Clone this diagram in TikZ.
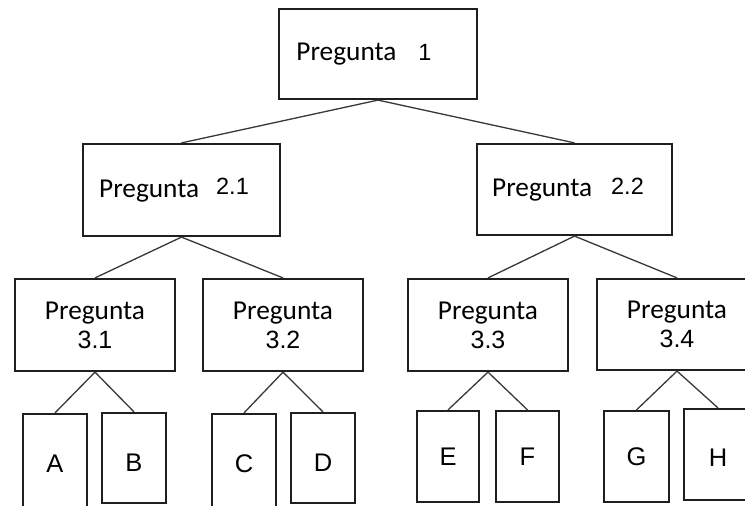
\documentclass[tikz,border=0pt]{standalone}
\usepackage{fontspec}
\setmainfont{Liberation Sans}
\newfontfamily\carlfont{Carlito}
\newfontfamily\arialfont{Liberation Sans}
\newcommand{\qword}{{\carlfont\fontsize{27.3}{29}\selectfont Pregunta}}
\newcommand{\qnum}[1]{{\arialfont\fontsize{23.5}{29}\selectfont #1}}
\newcommand{\qnumb}[1]{{\arialfont\fontsize{25}{29}\selectfont #1}}
\begin{document}
\begin{tikzpicture}[x=1pt,y=-1pt,
  box/.style={draw=black!88, line width=2.2pt, rectangle, inner sep=0pt, fill=white},
  qbox/.style={box, font=\fontsize{27.3}{29}\selectfont, align=center},
  leaf/.style={box, font=\arialfont\fontsize{25.5}{29}\selectfont, text height=18pt, text depth=0pt},
  link/.style={draw=black!78, line width=1.3pt}]
\useasboundingbox (0,0) rectangle (745,506);
\fill[white] (0,0) rectangle (745,506);
\begin{scope}
\clip (0,0) rectangle (745,506);
% level 1
\node[box, minimum width=198pt, minimum height=90pt] (q1) at (378,54)
  {\qword\hspace{22pt}\qnum{1}\hspace*{28pt}};
% level 2
\node[box, minimum width=197pt, minimum height=92pt] (q21) at (181.5,190)
  {\qword\hspace{17pt}\raisebox{2.5pt}{\qnum{2.1}}\hspace*{15pt}};
\node[box, minimum width=195pt, minimum height=91pt] (q22) at (574.5,189.5)
  {\qword\hspace{19pt}\raisebox{2.5pt}{\qnum{2.2}}\hspace*{13pt}};
% level 3
\node[qbox, minimum width=160pt, minimum height=92pt] (q31) at (95,325) {\qword\\\qnumb{3.1}};
\node[qbox, minimum width=160pt, minimum height=92pt] (q32) at (283,325) {\qword\\\qnumb{3.2}};
\node[qbox, minimum width=160pt, minimum height=92pt] (q33) at (488,325) {\qword\\\qnumb{3.3}};
\node[qbox, minimum width=160pt, minimum height=91pt] (q34) at (677,324.5) {\qword\\\qnumb{3.4}};
% leaves
\node[leaf, minimum width=64pt, minimum height=98pt] (A) at (55,463) {A};
\node[leaf, minimum width=64pt, minimum height=90pt] (B) at (134,458) {\raisebox{-4pt}{B}};
\node[leaf, minimum width=64pt, minimum height=98pt] (C) at (244,463) {C};
\node[leaf, minimum width=64pt, minimum height=90pt] (D) at (323,458) {\raisebox{-4pt}{D}};
\node[leaf, minimum width=62pt, minimum height=91pt] (E) at (448,456.5) {E};
\node[leaf, minimum width=63pt, minimum height=91pt] (F) at (527.5,456.5) {F};
\node[leaf, minimum width=65pt, minimum height=91pt] (G) at (636.5,456.5) {G};
\node[leaf, minimum width=68pt, minimum height=91pt] (H) at (718,454.5) {\raisebox{-2.5pt}{H}};
% connectors
\draw[link] (q1.south) -- (q21.north);
\draw[link] (q1.south) -- (q22.north);
\draw[link] (q21.south) -- (q31.north);
\draw[link] (q21.south) -- (q32.north);
\draw[link] (q22.south) -- (q33.north);
\draw[link] (q22.south) -- (q34.north);
\draw[link] (q31.south) -- (A.north);
\draw[link] (q31.south) -- (B.north);
\draw[link] (q32.south) -- (C.north);
\draw[link] (q32.south) -- (D.north);
\draw[link] (q33.south) -- (E.north);
\draw[link] (q33.south) -- (F.north);
\draw[link] (q34.south) -- (G.north);
\draw[link] (q34.south) -- (H.north);
\end{scope}
\end{tikzpicture}
\end{document}
